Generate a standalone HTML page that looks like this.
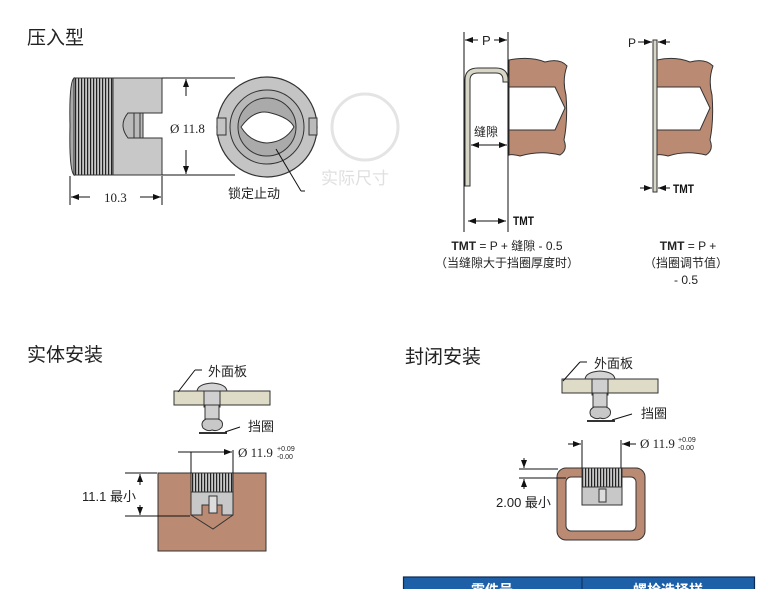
<!DOCTYPE html>
<html><head><meta charset="utf-8"><style>
body{margin:0;background:#fff;}
svg{display:block;font-family:"Liberation Sans","Noto Sans CJK SC",sans-serif;}
</style></head><body>
<svg width="762" height="589" viewBox="0 0 762 589" xmlns="http://www.w3.org/2000/svg">
<defs>
<pattern id="kn" width="3" height="10" patternUnits="userSpaceOnUse"><rect width="3" height="10" fill="#c8c8c8"/><rect width="1.2" height="10" fill="#222"/></pattern>
<pattern id="knh" width="10" height="3.2" patternUnits="userSpaceOnUse"><rect width="10" height="3.2" fill="#c0c0c0"/><rect width="10" height="1" fill="#333"/></pattern>
<marker id="ar" markerWidth="8" markerHeight="6" refX="8" refY="3" orient="auto" markerUnits="userSpaceOnUse"><path d="M0,0 L8,3 L0,6z" fill="#111"/></marker>
<g id="asm">
 <rect x="-38" y="7" width="96" height="14" fill="#dedbc6" stroke="#333" stroke-width="1"/>
 <rect x="-8" y="7" width="16" height="16" fill="#d0d0d0" stroke="#333"/>
 <path d="M-15,7 Q-14,0 0,-1 Q14,0 15,7z" fill="#d4d4d4" stroke="#333"/>
 <rect x="-7" y="21" width="14" height="14" fill="#d0d0d0" stroke="#333"/>
 <path d="M-6,35 Q-12,38 -9,44 Q-4,48 0,46 Q6,48 10,43 Q12,37 6,35z" fill="#c8c8c8" stroke="#333"/>
 <line x1="-13" y1="49" x2="15" y2="49" stroke="#333" stroke-width="2"/>
</g>
</defs>

<!-- Section 1 -->
<text x="27" y="44" font-size="19" fill="#222">压入型</text>
<rect x="74" y="78" width="39" height="97" fill="url(#kn)" stroke="#333"/>
<path d="M74,78 Q69,82 70,126 Q69,170 74,175z" fill="#aaa" stroke="#333"/>
<path d="M113,78 H162 V113 H143 V138 H162 V175 H113z" fill="#c8c8c8" stroke="#333"/>
<path d="M128,113 Q118,125 128,138 H143 V113z" fill="#bbb" stroke="#333"/>
<line x1="134" y1="113" x2="134" y2="138" stroke="#333"/><line x1="140" y1="113" x2="140" y2="138" stroke="#333"/>
<line x1="162" y1="78" x2="235" y2="78" stroke="#111"/><line x1="162" y1="175" x2="235" y2="175" stroke="#111"/>
<line x1="186" y1="96" x2="186" y2="79" stroke="#111" marker-end="url(#ar)"/>
<line x1="186" y1="150" x2="186" y2="174" stroke="#111" marker-end="url(#ar)"/>
<text x="170" y="133" font-size="13" font-family="Liberation Serif,serif" fill="#222">Ø 11.8</text>
<line x1="70" y1="176" x2="70" y2="205" stroke="#111"/><line x1="162" y1="176" x2="162" y2="205" stroke="#111"/>
<line x1="90" y1="197" x2="71" y2="197" stroke="#111" marker-end="url(#ar)"/>
<line x1="140" y1="197" x2="161" y2="197" stroke="#111" marker-end="url(#ar)"/>
<text x="104" y="202" font-size="13" font-family="Liberation Serif,serif" fill="#222">10.3</text>
<circle cx="267" cy="127" r="50" fill="#c4c4c4" stroke="#333" stroke-width="1.2"/>
<circle cx="267" cy="127" r="37" fill="#b8b8b8" stroke="#333"/>
<circle cx="267" cy="127" r="29" fill="#aaa" stroke="#333"/>
<rect x="217" y="118" width="9" height="17" fill="#c4c4c4" stroke="#333"/>
<rect x="309" y="118" width="8" height="17" fill="#bbb" stroke="#333"/>
<path d="M241,127 Q255,108 271,113 Q290,118 294,127 Q285,142 267,143 Q250,142 241,127z" fill="#fff" stroke="#333"/>
<line x1="276" y1="149" x2="301" y2="191" stroke="#111"/><line x1="301" y1="191" x2="305" y2="191" stroke="#111"/>
<text x="228" y="198" font-size="13" fill="#222">锁定止动</text>
<circle cx="365" cy="127" r="33" fill="none" stroke="#e4e4e4" stroke-width="3"/>
<text x="321" y="184" font-size="17" fill="#e0e0e0">实际尺寸</text>

<!-- Section 2 left -->
<path d="M509,60 Q530,56 545,62 Q560,58 567,66 Q562,80 566,95 Q568,120 564,140 Q568,150 560,155 Q540,150 520,156 Q512,154 509,155z" fill="#ba8a73" stroke="#333"/>
<path d="M509,87 H555 L565,108 L555,130 H509z" fill="#fff" stroke="#333"/>
<line x1="464" y1="32" x2="464" y2="232" stroke="#111"/><line x1="508" y1="32" x2="508" y2="232" stroke="#111"/>
<line x1="478" y1="40" x2="465" y2="40" stroke="#111" marker-end="url(#ar)"/>
<line x1="494" y1="40" x2="507" y2="40" stroke="#111" marker-end="url(#ar)"/>
<text x="482" y="45" font-size="13" fill="#222">P</text>
<path d="M465,186 V80 Q465,68 478,68 H496 Q508,68 508,80 V82 H503 V80 Q503,73 496,73 H478 Q470,73 470,80 V186z" fill="#d8d6c6" stroke="#333"/>
<text x="474" y="136" font-size="12" fill="#222">缝隙</text>
<line x1="488" y1="145" x2="471" y2="145" stroke="#111" marker-end="url(#ar)"/>
<line x1="488" y1="145" x2="507" y2="145" stroke="#111" marker-end="url(#ar)"/>
<line x1="488" y1="221" x2="468" y2="221" stroke="#111" marker-end="url(#ar)"/>
<line x1="488" y1="221" x2="506" y2="221" stroke="#111" marker-end="url(#ar)"/>
<text x="513" y="225" font-size="12" font-weight="bold" fill="#111" transform="translate(513 225) scale(0.85 1) translate(-513 -225)">TMT</text>
<text x="507" y="250" font-size="12" fill="#222" text-anchor="middle"><tspan font-weight="bold">TMT</tspan> = P + 缝隙 - 0.5</text>
<text x="507" y="267" font-size="12" fill="#222" text-anchor="middle">（当缝隙大于挡圈厚度时）</text>

<!-- Section 2 right -->
<path d="M657,60 Q675,56 690,62 Q705,58 713,66 Q708,80 712,95 Q714,120 710,140 Q714,150 706,155 Q686,150 668,156 Q660,154 657,155z" fill="#ba8a73" stroke="#333"/>
<path d="M657,87 H700 L710,108 L700,130 H657z" fill="#fff" stroke="#333"/>
<rect x="653" y="40" width="4" height="152" fill="#d8d6c6" stroke="#333"/>
<text x="628" y="47" font-size="12" fill="#222">P</text>
<line x1="638" y1="42" x2="652" y2="42" stroke="#111" marker-end="url(#ar)"/>
<line x1="670" y1="42" x2="658" y2="42" stroke="#111" marker-end="url(#ar)"/>
<line x1="640" y1="188" x2="652" y2="188" stroke="#111" marker-end="url(#ar)"/>
<line x1="670" y1="188" x2="658" y2="188" stroke="#111" marker-end="url(#ar)"/>
<text x="673" y="193" font-size="12" font-weight="bold" fill="#111" transform="translate(673 193) scale(0.85 1) translate(-673 -193)">TMT</text>
<text x="688" y="250" font-size="12" fill="#222" text-anchor="middle"><tspan font-weight="bold">TMT</tspan> = P +</text>
<text x="686" y="267" font-size="12" fill="#222" text-anchor="middle">（挡圈调节值）</text>
<text x="686" y="284" font-size="12" fill="#222" text-anchor="middle">- 0.5</text>

<!-- Section 3 -->
<text x="27" y="361" font-size="19" fill="#222">实体安装</text>
<use href="#asm" x="212" y="384"/>
<line x1="178" y1="392" x2="195" y2="370" stroke="#111"/><line x1="195" y1="370" x2="202" y2="370" stroke="#111"/>
<text x="208" y="376" font-size="13" fill="#222">外面板</text>
<line x1="225" y1="432" x2="240" y2="427" stroke="#111"/>
<text x="248" y="431" font-size="13" fill="#222">挡圈</text>
<rect x="158" y="473" width="108" height="78" fill="#ba8a73" stroke="#333"/>
<rect x="191" y="473" width="42" height="19" fill="url(#kn)" stroke="#333"/>
<path d="M191,492 H233 V515 L213,529 L191,515z" fill="none" stroke="#333"/>
<path d="M191,492 H233 V515 H222 V505 H202 V515 H191z" fill="#c8c8c8" stroke="#333"/>
<rect x="209" y="496" width="8" height="17" fill="#ddd" stroke="#333"/>
<line x1="191" y1="452" x2="191" y2="473" stroke="#111"/><line x1="233" y1="450" x2="233" y2="473" stroke="#111"/>
<line x1="178" y1="452" x2="232" y2="452" stroke="#111" marker-end="url(#ar)"/>
<text x="238" y="457" font-size="13" font-family="Liberation Serif,serif" fill="#222">Ø 11.9</text>
<text x="277" y="451" font-size="7" fill="#222">+0.09</text><text x="277" y="459" font-size="7" fill="#222">-0.00</text>
<line x1="125" y1="473" x2="157" y2="473" stroke="#111"/><line x1="125" y1="516" x2="190" y2="516" stroke="#111"/>
<line x1="140" y1="485" x2="140" y2="474" stroke="#111" marker-end="url(#ar)"/>
<line x1="140" y1="505" x2="140" y2="515" stroke="#111" marker-end="url(#ar)"/>
<text x="82" y="501" font-size="13" fill="#222">11.1 最小</text>

<!-- Section 4 -->
<text x="405" y="363" font-size="19" fill="#222">封闭安装</text>
<use href="#asm" x="600" y="372" transform="scale(1 1)"/>
<line x1="563" y1="381" x2="580" y2="362" stroke="#111"/><line x1="580" y1="362" x2="587" y2="362" stroke="#111"/>
<text x="594" y="368" font-size="13" fill="#222">外面板</text>
<line x1="612" y1="420" x2="632" y2="414" stroke="#111"/>
<text x="641" y="418" font-size="13" fill="#222">挡圈</text>
<rect x="557" y="468" width="88" height="72" rx="9" fill="#ba8a73" stroke="#333"/>
<rect x="566" y="477" width="70" height="54" rx="5" fill="#fff" stroke="#333"/>
<rect x="582" y="468" width="40" height="19" fill="url(#kn)" stroke="#333"/>
<rect x="582" y="487" width="40" height="18" fill="#c8c8c8" stroke="#333"/>
<rect x="599" y="489" width="7" height="13" fill="#ddd" stroke="#333"/>
<line x1="582" y1="440" x2="582" y2="468" stroke="#111"/><line x1="621" y1="440" x2="621" y2="468" stroke="#111"/>
<line x1="568" y1="444" x2="581" y2="444" stroke="#111" marker-end="url(#ar)"/>
<line x1="636" y1="444" x2="622" y2="444" stroke="#111" marker-end="url(#ar)"/>
<text x="640" y="448" font-size="13" font-family="Liberation Serif,serif" fill="#222">Ø 11.9</text>
<text x="678" y="442" font-size="7" fill="#222">+0.09</text><text x="678" y="450" font-size="7" fill="#222">-0.00</text>
<line x1="519" y1="469" x2="558" y2="469" stroke="#111"/><line x1="519" y1="478" x2="566" y2="478" stroke="#111"/>
<line x1="524" y1="458" x2="524" y2="468" stroke="#111" marker-end="url(#ar)"/>
<line x1="524" y1="489" x2="524" y2="479" stroke="#111" marker-end="url(#ar)"/>
<text x="496" y="507" font-size="13" fill="#222">2.00 最小</text>

<!-- table header -->
<rect x="403.5" y="577" width="351" height="14" fill="#1e60a8" stroke="#0b2a55" stroke-width="1.2"/>
<line x1="582" y1="577" x2="582" y2="589" stroke="#0b2a55"/>
<text x="492" y="595" font-size="14" font-weight="bold" fill="#fff" text-anchor="middle">零件号</text>
<text x="668" y="595" font-size="14" font-weight="bold" fill="#fff" text-anchor="middle">螺栓选择样</text>
</svg>
</body></html>
